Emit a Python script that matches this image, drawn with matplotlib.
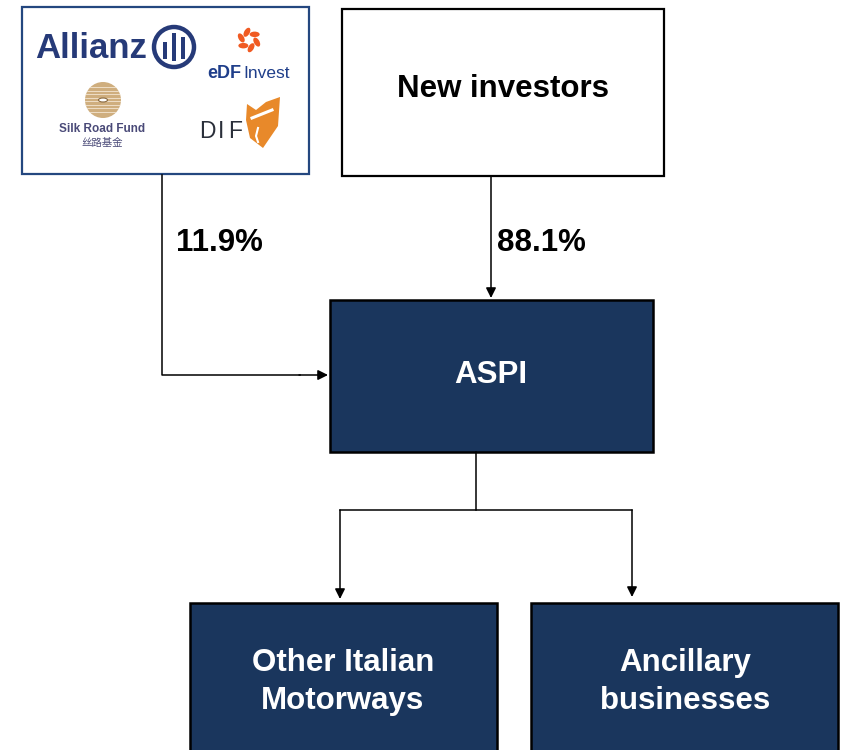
import matplotlib
matplotlib.use('Agg')
from matplotlib import pyplot as plt
from matplotlib.patches import Rectangle, Circle, Ellipse, Polygon
import numpy as np

plt.rcParams['font.family'] = ['Liberation Sans', 'DejaVu Sans']

# chart content
pct_labels = ['11.9%', '88.1%']
top_label = 'New investors'
mid_label = 'ASPI'
bottom_labels = ['Other Italian\nMotorways', 'Ancillary\nbusinesses']
logo_names = ['Allianz', 'Invest', 'Silk Road Fund', '丝路基金', 'DIF']

NAVY = '#1a365d'

fig = plt.figure(figsize=(8.41, 7.5), dpi=100)
ax = fig.add_axes([0, 0, 1, 1])
ax.set_xlim(0, 841)
ax.set_ylim(750, 0)
ax.axis('off')

def box(x0, y0, x1, y1, fc, ec, lw=1.6):
    ax.add_patch(Rectangle((x0, y0), x1 - x0, y1 - y0, facecolor=fc,
                           edgecolor=ec, linewidth=lw, zorder=2))

def arrow(x0, y0, x1, y1):
    ax.annotate('', xy=(x1, y1), xytext=(x0, y0),
                arrowprops=dict(arrowstyle='-|>', color='black', lw=1.1,
                                mutation_scale=15, shrinkA=0, shrinkB=0))

# boxes
box(22, 7, 309, 174, 'white', '#24477f', 1.6)
box(342, 9, 664, 176, 'white', 'black', 1.6)
box(330, 300, 653, 452, NAVY, 'black', 1.8)
box(190, 603, 497, 760, NAVY, 'black', 1.8)
box(531, 603, 838, 760, NAVY, 'black', 1.8)

# connectors
ax.plot([162, 162, 300], [175, 375, 375], color='black', lw=1.1)
arrow(299, 375, 328, 375)
arrow(491, 177, 491, 298)
ax.plot([476, 476], [452, 510], color='black', lw=1.1)
ax.plot([340, 632], [510, 510], color='black', lw=1.1)
arrow(340, 510, 340, 599)
arrow(632, 510, 632, 597)

# labels
fs = 22.5
ax.text(176, 243, pct_labels[0], fontsize=fs, fontweight='bold', ha='left', va='center')
ax.text(497, 243, pct_labels[1], fontsize=fs, fontweight='bold', ha='left', va='center')
ax.text(503, 89, top_label, fontsize=fs, fontweight='bold', ha='center', va='center')
ax.text(491, 375, mid_label, fontsize=fs, fontweight='bold', ha='center', va='center', color='white')
ax.text(343, 682, bottom_labels[0], fontsize=fs, fontweight='bold', ha='center', va='center',
        color='white', linespacing=1.32)
ax.text(685, 682, bottom_labels[1], fontsize=fs, fontweight='bold', ha='center', va='center',
        color='white', linespacing=1.32)

# logos (approximate)
ALZ = '#263a78'
ax.text(35, 48, logo_names[0], fontsize=25, fontweight='heavy', color=ALZ,
        ha='left', va='center', zorder=3)
ax.add_patch(Circle((174, 47), 20, facecolor='none', edgecolor=ALZ, lw=3.2, zorder=3))
for bx, by0, by1 in [(165, 42, 59), (174, 33, 61), (183, 37, 59)]:
    ax.add_patch(Rectangle((bx - 2.2, by0), 4.4, by1 - by0, facecolor=ALZ, lw=0, zorder=3))

ORG = '#f05a22'
for k in range(6):
    a = np.deg2rad(60 * k + 15)
    ax.add_patch(Ellipse((249 + 8 * np.cos(a), 40 + 8 * np.sin(a)), 10, 5.5,
                         angle=60 * k + 60, facecolor=ORG, lw=0, zorder=3))
ax.text(207, 74, 'eDF', fontsize=13, fontweight='bold', color='#1f3e8a', ha='left', va='center', zorder=3)
ax.text(243, 74, logo_names[1], fontsize=12.5, color='#1f3e8a', ha='left', va='center', zorder=3)

GOLD = '#cfae7e'
ax.add_patch(Circle((103, 100), 18, facecolor=GOLD, lw=0, zorder=3))
for yy in np.arange(87, 115, 3.5):
    ax.plot([85, 121], [yy, yy], color='#f3e6d2', lw=0.6, zorder=4,
            clip_path=ax.patches[-1])
ax.add_patch(Ellipse((103, 100), 9, 4, facecolor='white', edgecolor='#8a6a40', lw=0.8, zorder=5))
ax.text(102, 129, logo_names[2], fontsize=8.5, fontweight='bold', color='#4a4a78',
        ha='center', va='center', zorder=3)
ax.text(102, 143, logo_names[3], fontsize=7.5, color='#4a4a78', ha='center', va='center',
        family=['Noto Sans CJK SC', 'DejaVu Sans'], zorder=3)

for ch, cx in zip(logo_names[4], [199, 218, 228]):
    ax.text(cx, 131, ch, fontsize=16.5, color='#2a2f3a', ha='left', va='center', zorder=3)
ax.add_patch(Polygon([(247, 104), (256, 110), (266, 102), (280, 97), (278, 126),
                      (263, 148), (250, 138), (246, 120)],
                     closed=True, facecolor='#e8892a', lw=0, zorder=3))
ax.plot([252, 262, 272], [118, 114, 110], color='white', lw=2.2, zorder=4)
ax.plot([258, 256, 258], [128, 136, 142], color='white', lw=1.5, zorder=4)

fig.savefig('out.png', dpi=100)
